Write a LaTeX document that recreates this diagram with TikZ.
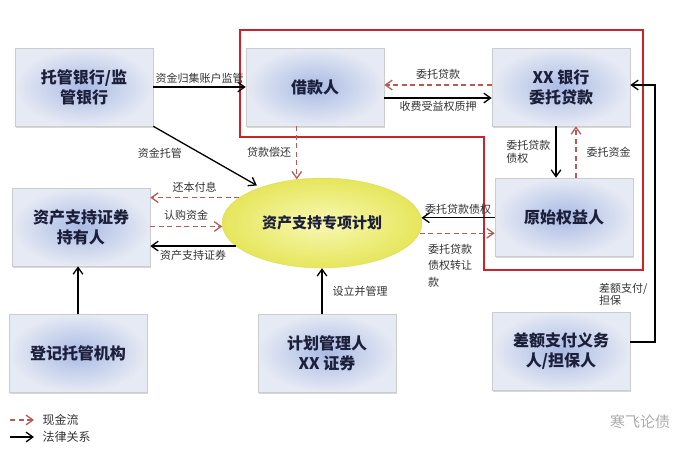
\documentclass[tikz,border=0pt]{standalone}
\usepackage{fontspec}
\setmainfont{Noto Sans CJK SC}
\usetikzlibrary{arrows.meta,shapes.geometric,shadows}
\definecolor{ink}{HTML}{1C1F3A}
\definecolor{frame}{HTML}{CC2229}
\definecolor{cashred}{HTML}{B65A58}
\definecolor{boxin}{HTML}{A9BAE4}
\definecolor{boxout}{HTML}{E6EAF4}
\definecolor{planin}{HTML}{F8F8B4}
\definecolor{planout}{HTML}{E6E65C}
\definecolor{note}{HTML}{333333}

\begin{document}
\begin{tikzpicture}[
  x=1pt,y=-1pt,
  font=\fontsize{11}{16.5}\selectfont,
  party/.style={
    rectangle,
    draw=gray!40,
    line width=.6pt,
    shading=radial,
    inner color=boxin,
    outer color=boxout,
    drop shadow={opacity=.3,shadow xshift=1pt,shadow yshift=-2pt},
    minimum width=138pt,
    minimum height=78pt,
    align=center,
    text=ink,
    font=\fontsize{16}{20}\selectfont\bfseries
  },
  plan/.style={
    ellipse,
    shading=radial,
    inner color=planin,
    outer color=planout,
    draw=planout!95!black,
    line width=.3pt,
    minimum width=200pt,
    minimum height=90pt,
    text=ink,
    font=\fontsize{15}{18}\selectfont\bfseries
  },
  legal/.style={
    black,
    line width=1.3pt,
    -{Straight Barb[length=2.4mm,width=3.4mm]}
  },
  cashflow/.style={
    cashred,
    line width=1.3pt,
    dash pattern=on 5pt off 3.5pt,
    -{Straight Barb[length=2.4mm,width=3.4mm]}
  },
  lbl/.style={
    text=note,
    inner sep=2pt,
    align=left
  }
]

\useasboundingbox[fill=white] (0,0) rectangle (696,451);

\draw[frame,line width=2.4pt]
  (240,30) -- (643,30) -- (643,270) -- (484,270)
  -- (484,137) -- (240,137) -- cycle;

\node[party] (custody) at (84,87) {托管银行/监\\管银行};
\node[party] (borrower) at (315,87) {借款人};
\node[party] (trustee) at (561,87) {XX 银行\\委托贷款};
\node[party] (originator) at (564,217) {原始权益人};
\node[party] (holder) at (81,227) {资产支持证券\\持有人};
\node[party] (registry) at (78,353) {登记托管机构};
\node[party] (manager) at (327,353) {计划管理人\\XX 证券};
\node[party] (guarantor) at (561,351) {差额支付义务\\人/担保人};

\node[plan] (spv) at (322,223) {资产支持专项计划};

\draw[legal] (custody.east) -- (borrower.west)
  node[midway,above=1pt,lbl] {资金归集账户监管};
\draw[legal,shorten >=4pt] (custody.south east) -- (spv.150)
  node[pos=.3,below left=1pt,lbl] {资金托管};
\draw[cashflow] (spv.120 |- borrower.south) -- (spv.120)
  node[midway,left=3pt,lbl] {贷款偿还};

\draw[cashflow] ([yshift=2pt]trustee.west) -- ([yshift=2pt]borrower.east)
  node[midway,above=3pt,lbl] {委托贷款};
\draw[legal] ([yshift=-11pt]borrower.east) -- ([yshift=-11pt]trustee.west)
  node[midway,below=1pt,lbl] {收费受益权质押};

\draw[legal] ([xshift=-5pt]trustee.south) -- ([xshift=-8pt]originator.north)
  node[midway,left=3pt,lbl] {委托贷款\\[-4pt]债权};
\draw[cashflow] ([xshift=12pt]originator.north) -- ([xshift=15pt]trustee.south)
  node[midway,right=8pt,lbl] {委托资金};

\draw[legal] (originator.west |- spv.3) -- (spv.3)
  node[midway,above=1pt,lbl] {委托贷款债权};
\draw[cashflow] (spv.354) -- (spv.354 -| originator.west)
  node[pos=.08,anchor=north west,yshift=-8pt,lbl] {委托贷款\\债权转让\\款};

\draw[cashflow] (spv.163) -- (spv.163 -| holder.east)
  node[midway,above=3pt,lbl] {还本付息};
\draw[cashflow] (holder.east |- spv.182) -- (spv.182)
  node[midway,above=3pt,lbl] {认购资金};
\draw[legal] (spv.195) -- (spv.195 -| holder.east)
  node[midway,below=2pt,lbl] {资产支持证券};

\draw[legal] (registry.north) -- (registry.north |- holder.south);
\draw[legal] (spv.south |- manager.north) -- (spv.south)
  node[midway,right=8pt,lbl] {设立并管理};

\coordinate (elbow) at (655,247);
\draw[legal] ([yshift=9pt]guarantor.east) -| (elbow)
  node[pos=.75,left=5pt,lbl] {差额支付/\\[-4pt]担保}
  |- ([yshift=2pt]trustee.east);

\coordinate (cashA) at (10,420);
\coordinate (cashB) at (34,420);
\coordinate (legalA) at (10,437);
\coordinate (legalB) at (34,437);
\draw[cashflow] (cashA) -- (cashB)
  node[right=6pt,lbl,font=\fontsize{12}{14}\selectfont] {现金流};
\draw[legal] (legalA) -- (legalB)
  node[right=6pt,lbl,font=\fontsize{12}{14}\selectfont] {法律关系};

\node[text=gray!65,font=\fontsize{15}{18}\selectfont] (mark) at (640,422) {寒飞论债};

\end{tikzpicture}
\end{document}
